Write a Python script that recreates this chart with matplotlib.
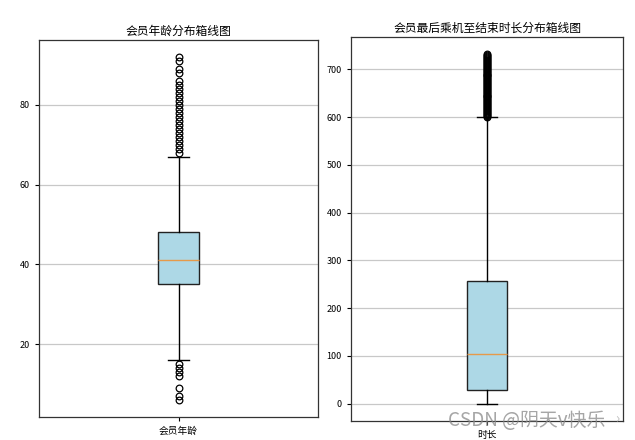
import matplotlib.pyplot as plt

plt.rcParams['font.family'] = ['Noto Sans CJK SC', 'DejaVu Sans']
plt.rcParams['axes.unicode_minus'] = False

# 会员年龄 box statistics
age_label = '会员年龄'
age_q1, age_med, age_q3 = 35, 41, 48
age_whislo, age_whishi = 16, 67
age_fliers = [6, 7, 9, 12, 13, 14, 15,
              68, 69, 70, 71, 72, 73, 74, 75, 76, 77, 78, 79, 80, 81, 82, 83,
              84, 85, 86, 88, 89, 91, 92]

# 时长 box statistics
dur_label = '时长'
dur_q1, dur_med, dur_q3 = 28, 103, 257
dur_whislo, dur_whishi = 0, 600
dur_fliers = [601, 603, 605, 607, 609, 611, 613, 615, 617, 619, 621, 623,
              625, 627, 629, 631, 633, 635, 637, 639, 641, 643, 645, 647,
              649, 651, 653, 655, 657, 659, 661, 663, 665, 667, 669, 671,
              673, 675, 677, 679, 681, 683, 685, 687, 689, 691, 693, 695,
              697, 699, 701, 703, 705, 707, 709, 711, 713, 715, 717, 719,
              721, 723, 725, 727, 729, 731]

age_stats = [dict(label=age_label, q1=age_q1, med=age_med, q3=age_q3,
                  whislo=age_whislo, whishi=age_whishi, fliers=age_fliers)]
dur_stats = [dict(label=dur_label, q1=dur_q1, med=dur_med, q3=dur_q3,
                  whislo=dur_whislo, whishi=dur_whishi, fliers=dur_fliers)]

fig = plt.figure(figsize=(6.35, 4.4), dpi=100)
ax1 = fig.add_axes([39 / 635, 1 - 417 / 440, 279 / 635, 377 / 440])
ax2 = fig.add_axes([351 / 635, 1 - 421 / 440, 272 / 635, 384 / 440])

flier_style = dict(marker='o', markersize=4.8, markerfacecolor='none',
                   markeredgecolor='black', markeredgewidth=0.9)

for ax, stats, title in [(ax1, age_stats, '会员年龄分布箱线图'),
                         (ax2, dur_stats, '会员最后乘机至结束时长分布箱线图')]:
    bp = ax.bxp(stats, patch_artist=True, flierprops=flier_style,
                boxprops=dict(facecolor='lightblue', edgecolor='#222222', linewidth=1),
                whiskerprops=dict(color='black', linewidth=1),
                capprops=dict(color='black', linewidth=1),
                medianprops=dict(color='#e69a4a', linewidth=1))
    ax.set_title(title, fontsize=8.5, pad=4)
    ax.yaxis.grid(True, color='#c8c8c8', linewidth=0.9)
    ax.set_axisbelow(True)
    ax.tick_params(axis='y', labelsize=6.5, length=3, width=0.8)
    ax.tick_params(axis='x', labelsize=7, length=3, width=0.8)
    for sp in ax.spines.values():
        sp.set_color('#333333')
        sp.set_linewidth(0.9)

ax1.set_yticks([20, 40, 60, 80])
ax2.set_yticks([0, 100, 200, 300, 400, 500, 600, 700])

fig.text(0.953, 0.045, 'CSDN @阴天v快乐', fontsize=13.6, color='#888888',
         alpha=0.75, ha='right', va='center')
fig.text(0.972, 0.05, '›', fontsize=10, color='#aaaaaa',
         alpha=0.75, ha='center', va='center')

fig.savefig('out.png', dpi=100)
